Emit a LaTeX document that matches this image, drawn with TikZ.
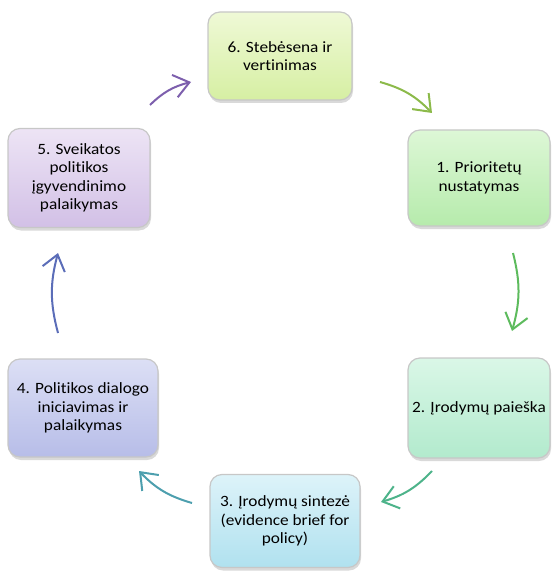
\documentclass[tikz,border=0pt]{standalone}
\usepackage{fontspec}
\setmainfont[FakeStretch=1.1, Ligatures={NoCommon,NoContextual}]{Carlito}
\usetikzlibrary{arrows.meta,shadows}

\definecolor{limeA}{HTML}{EFF9D6}
\definecolor{limeB}{HTML}{D6EFA3}
\definecolor{greenA}{HTML}{DDF7D6}
\definecolor{greenB}{HTML}{B6EBAC}
\definecolor{mintA}{HTML}{DAF7E7}
\definecolor{mintB}{HTML}{B2EACD}
\definecolor{skyA}{HTML}{DDF3F9}
\definecolor{skyB}{HTML}{B0E1EF}
\definecolor{lavA}{HTML}{DCDFF5}
\definecolor{lavB}{HTML}{B7BDE8}
\definecolor{lilaA}{HTML}{EDE4F5}
\definecolor{lilaB}{HTML}{D2C0E6}

\definecolor{arrLime}{HTML}{8CBA4A}
\definecolor{arrGreen}{HTML}{5DBB5D}
\definecolor{arrMint}{HTML}{4DB38A}
\definecolor{arrTeal}{HTML}{4D9FAE}
\definecolor{arrBlue}{HTML}{5B6DB8}
\definecolor{arrPurple}{HTML}{7D5FAD}

\begin{document}
\begin{tikzpicture}[
    x=1pt, y=-1pt,
    align=center,
    stage/.style={rectangle, rounded corners=12pt, draw=black!22, line width=1.2pt,
      font=\fontsize{15.7}{18.5}\selectfont,
      drop shadow={shadow xshift=1pt, shadow yshift=-3pt, opacity=0.3}},
    cyc/.style={-{Straight Barb[length=15pt, width=23pt]}, line width=2pt, bend left=15},
  ]
  \useasboundingbox (0,0) rectangle (553,572);

  % stages
  \node (mon)  [stage, minimum width=144pt, minimum height=88pt,
                top color=limeA, bottom color=limeB]  at (280,56)  {6. Stebėsena ir\\vertinimas};
  \node (prio) [stage, minimum width=142pt, minimum height=96pt,
                top color=greenA, bottom color=greenB] at (479,178) {1. Prioritetų\\nustatymas};
  \node (search) [stage, minimum width=142pt, minimum height=100pt,
                top color=mintA, bottom color=mintB]  at (479,408) {2. Įrodymų paieška};
  \node (synth) [stage, minimum width=150pt, minimum height=93pt,
                top color=skyA, bottom color=skyB]    at (285,521) {3. Įrodymų sintezė\\(evidence brief for\\policy)};
  \node (dial) [stage, minimum width=150pt, minimum height=98pt,
                top color=lavA, bottom color=lavB]    at (83,408)  {4. Politikos dialogo\\iniciavimas ir\\palaikymas};
  \node (impl) [stage, minimum width=142pt, minimum height=99pt,
                top color=lilaA, bottom color=lilaB]  at (79,178)  {5. Sveikatos\\politikos\\įgyvendinimo\\palaikymas};

  % arrow ends
  \coordinate (monA)    at (380,82);
  \coordinate (prioB)   at (432,113);
  \coordinate (prioA)   at (513,253);
  \coordinate (searchB) at (512,331);
  \coordinate (searchA) at (432,471);
  \coordinate (synthB)  at (381,502);
  \coordinate (synthA)  at (192,503);
  \coordinate (dialB)   at (139,471);
  \coordinate (dialA)   at (58,333);
  \coordinate (implB)   at (58,253);
  \coordinate (implA)   at (150,105);
  \coordinate (monB)    at (191,82);

  % cycle
  \draw[cyc, arrLime]   (monA) to (prioB);
  \draw[cyc, arrGreen]  (prioA) to (searchB);
  \draw[cyc, arrMint]   (searchA) to (synthB);
  \draw[cyc, arrTeal]   (synthA) to (dialB);
  \draw[cyc, arrBlue]   (dialA) to (implB);
  \draw[cyc, arrPurple] (implA) to (monB);

\end{tikzpicture}
\end{document}
